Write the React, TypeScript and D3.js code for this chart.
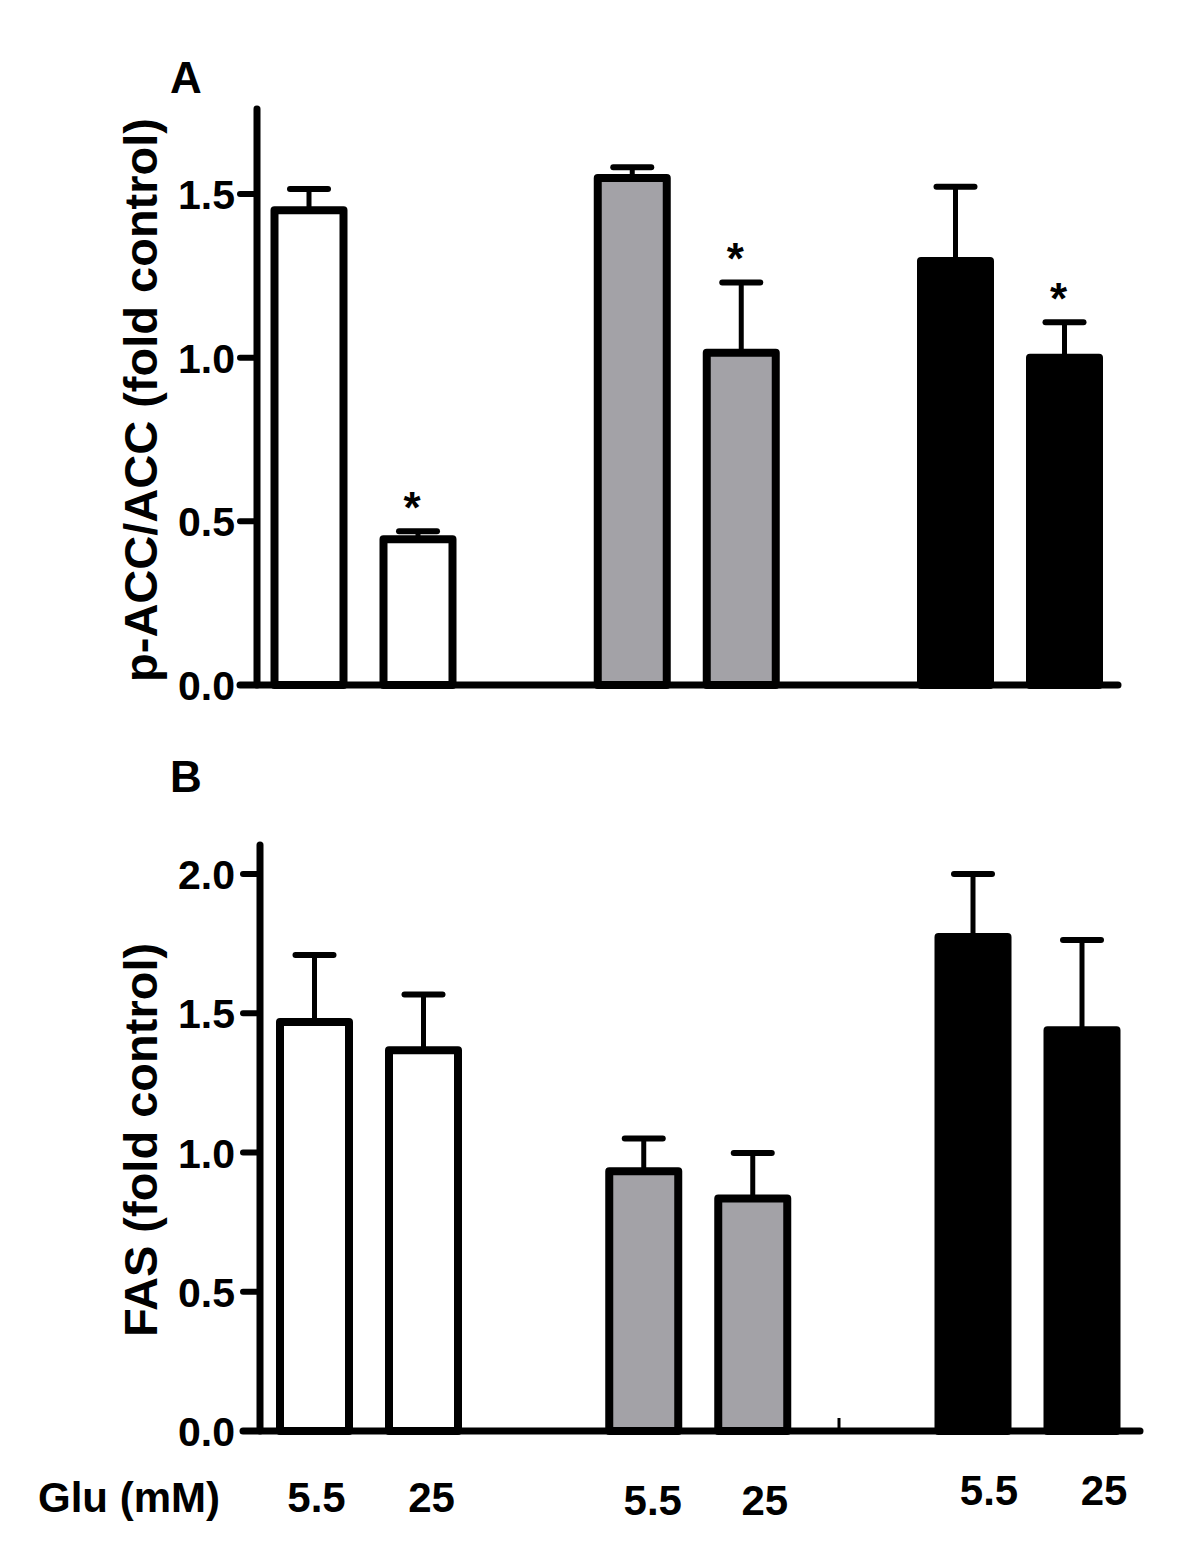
import React from "react";
import * as d3 from "d3";

const groups = ["g1", "g2", "g3"];
const glucose = ["5.5", "25"];
const groupFills = ["#ffffff", "#a3a2a7", "#000000"];

// Panel A: p-ACC/ACC (fold control)
const accMeans = [1.45, 0.445, 1.549, 1.015, 1.295, 1.0];
const accErrs = [0.065, 0.025, 0.033, 0.215, 0.227, 0.108];
const accSig = [false, true, false, true, false, true];
const accTicks = [0, 0.5, 1.0, 1.5];

// Panel B: FAS (fold control)
const fasMeans = [1.469, 1.367, 0.933, 0.835, 1.774, 1.439];
const fasErrs = [0.24, 0.2, 0.117, 0.163, 0.226, 0.324];
const fasSig = [false, false, false, false, false, false];
const fasTicks = [0, 0.5, 1.0, 1.5, 2.0];

const FONT = "'Liberation Sans', Arial, Helvetica, sans-serif";

type PanelProps = {
  letter: string;
  title: string;
  means: number[];
  errs: number[];
  sig: boolean[];
  ticks: number[];
  yTop: number;
  y0: number;
  yTickTop: number;
  yAxisX: number;
  groupRange: [number, number];
  xEnd: number;
  letterY: number;
  titleCenterY: number;
  extraTickX?: number;
};

function Panel(p: PanelProps) {
  const y = d3.scaleLinear().domain([0, p.ticks[p.ticks.length - 1]]).range([p.y0, p.yTickTop]);
  const gx = d3.scalePoint<string>().domain(groups).range(p.groupRange);
  const ix = d3.scalePoint<string>().domain(glucose).range([-54.5, 54.5]);
  const barW = 69;
  const sw = 8;
  const items = p.means.map((m, i) => {
    const g = groups[Math.floor(i / 2)];
    const gl = glucose[i % 2];
    return { m, e: p.errs[i], s: p.sig[i], cx: (gx(g) as number) + (ix(gl) as number), fill: groupFills[Math.floor(i / 2)] };
  });
  return (
    <g>
      <text x={170} y={p.letterY} fontFamily={FONT} fontWeight="bold" fontSize={44}>{p.letter}</text>
      <text
        transform={`translate(157,${p.titleCenterY}) rotate(-90)`}
        textAnchor="middle"
        fontFamily={FONT}
        fontWeight="bold"
        fontSize={47}
      >{p.title}</text>
      {items.map((d, i) => (
        <g key={i}>
          <line x1={d.cx} x2={d.cx} y1={y(d.m)} y2={y(d.m + d.e)} stroke="#000" strokeWidth={5} />
          <line x1={d.cx - 19} x2={d.cx + 19} y1={y(d.m + d.e)} y2={y(d.m + d.e)} stroke="#000" strokeWidth={6} strokeLinecap="round" />
          <rect
            x={d.cx - barW / 2}
            y={y(d.m)}
            width={barW}
            height={p.y0 - y(d.m)}
            fill={d.fill}
            stroke="#000"
            strokeWidth={sw}
            strokeLinejoin="round"
          />
          {d.s && (
            <text x={d.cx - 6} y={y(d.m + d.e) - 8} textAnchor="middle" fontFamily={FONT} fontWeight="bold" fontSize={44}>*</text>
          )}
        </g>
      ))}
      <line x1={p.yAxisX} x2={p.yAxisX} y1={p.yTop} y2={p.y0} stroke="#000" strokeWidth={7} strokeLinecap="round" />
      {p.ticks.map((t) => (
        <g key={t}>
          <line x1={p.yAxisX - 17} x2={p.yAxisX} y1={y(t)} y2={y(t)} stroke="#000" strokeWidth={6} strokeLinecap="round" />
          <text x={235} y={y(t) + 15} textAnchor="end" fontFamily={FONT} fontWeight="bold" fontSize={41}>{t.toFixed(1)}</text>
        </g>
      ))}
      <line x1={p.yAxisX - 17} x2={p.xEnd} y1={p.y0} y2={p.y0} stroke="#000" strokeWidth={7} strokeLinecap="round" />
      {p.extraTickX !== undefined && (
        <line x1={p.extraTickX} x2={p.extraTickX} y1={p.y0 - 13} y2={p.y0} stroke="#000" strokeWidth={3} />
      )}
    </g>
  );
}

const glLabelDx = [[2, 8], [9, 12], [16, 22]];
const glLabelBase = [1512, 1515, 1505];

export default function App() {
  const gxB = d3.scalePoint<string>().domain(groups).range([369, 1027.5]);
  const ixB = d3.scalePoint<string>().domain(glucose).range([-54.5, 54.5]);
  return (
    <svg width={1200} height={1554} style={{ display: "block", position: "absolute", left: 0, top: 0, background: "#fff" }}>
      <rect width={1200} height={1554} fill="#fff" />
      <Panel
        letter="A"
        title="p-ACC/ACC (fold control)"
        means={accMeans}
        errs={accErrs}
        sig={accSig}
        ticks={accTicks}
        yTop={109}
        y0={685}
        yTickTop={194}
        yAxisX={257}
        groupRange={[363.5, 1010]}
        xEnd={1118}
        letterY={93}
        titleCenterY={400}
      />
      <Panel
        letter="B"
        title="FAS (fold control)"
        means={fasMeans}
        errs={fasErrs}
        sig={fasSig}
        ticks={fasTicks}
        yTop={845}
        y0={1431}
        yTickTop={874}
        yAxisX={260}
        groupRange={[369, 1027.5]}
        xEnd={1140}
        letterY={792}
        titleCenterY={1140}
        extraTickX={839}
      />
      <text x={38} y={1512} fontFamily={FONT} fontWeight="bold" fontSize={42}>Glu (mM)</text>
      {groups.map((g, gi) =>
        glucose.map((gl, j) => (
          <text
            key={g + gl}
            x={(gxB(g) as number) + (ixB(gl) as number) + glLabelDx[gi][j]}
            y={glLabelBase[gi]}
            textAnchor="middle"
            fontFamily={FONT}
            fontWeight="bold"
            fontSize={42}
          >{gl}</text>
        ))
      )}
    </svg>
  );
}
